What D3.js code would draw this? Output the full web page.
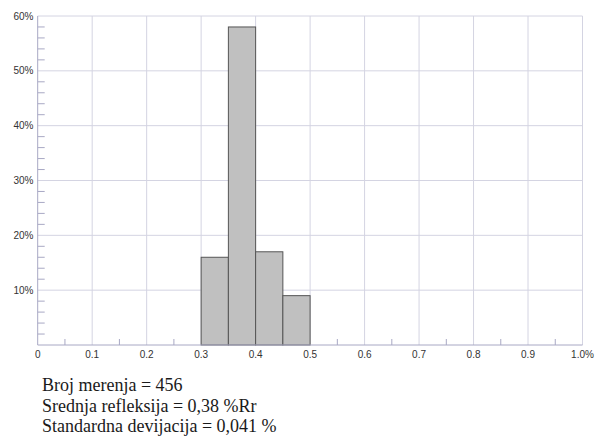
<!DOCTYPE html>
<html><head><meta charset="utf-8">
<script src="https://cdn.jsdelivr.net/npm/d3@7"></script>
<style>body{margin:0;background:#fff}</style>
</head><body><svg id="c" width="598" height="437"></svg>
<script>
const binStarts = [0.30, 0.35, 0.40, 0.45];
const binWidth = 0.05;
const binPercents = [16, 58, 17, 9];
const xTicks = [0,0.1,0.2,0.3,0.4,0.5,0.6,0.7,0.8,0.9,1.0];
const xTickLabels = ["0","0.1","0.2","0.3","0.4","0.5","0.6","0.7","0.8","0.9","1.0%"];
const yTicks = [10,20,30,40,50,60];
const yTickLabels = ["10%","20%","30%","40%","50%","60%"];
const statLines = ["Broj merenja = 456","Srednja refleksija = 0,38 %Rr","Standardna devijacija = 0,041 %"];

const svg = d3.select("#c");
const x = d3.scaleLinear().domain([0,1]).range([37.7,582.5]);
const y = d3.scaleLinear().domain([0,60]).range([345,16]);
const grid = "#d4d4e2", axisC = "#a8a8c4";

// gridlines
svg.append("g").selectAll("line").data(xTicks.slice(1)).join("line")
  .attr("x1",d=>x(d)).attr("x2",d=>x(d)).attr("y1",y(0)).attr("y2",y(60))
  .attr("stroke",grid).attr("stroke-width",1);
svg.append("g").selectAll("line").data(yTicks).join("line")
  .attr("x1",x(0)).attr("x2",x(1)).attr("y1",d=>y(d)).attr("y2",d=>y(d))
  .attr("stroke",grid).attr("stroke-width",1);

// minor ticks
const yMinor = d3.range(2,60,2).filter(v=>v%10!==0);
svg.append("g").selectAll("line").data(yMinor).join("line")
  .attr("x1",x(0)).attr("x2",x(0)+7).attr("y1",d=>y(d)).attr("y2",d=>y(d))
  .attr("stroke",axisC);
const xMinor = d3.range(0.05,1,0.1);
svg.append("g").selectAll("line").data(xMinor).join("line")
  .attr("x1",d=>x(d)).attr("x2",d=>x(d)).attr("y1",y(0)).attr("y2",y(0)-6)
  .attr("stroke",axisC);

// bars
svg.append("g").selectAll("rect").data(binStarts).join("rect")
  .attr("x",d=>x(d)).attr("width",d=>x(d+binWidth)-x(d))
  .attr("y",(d,i)=>y(binPercents[i])).attr("height",(d,i)=>y(0)-y(binPercents[i]))
  .attr("fill","#c0c0c0").attr("stroke","#555").attr("stroke-width",1);

// axes lines
svg.append("line").attr("x1",x(0)).attr("x2",x(0)).attr("y1",y(0)).attr("y2",y(60)).attr("stroke",axisC);
svg.append("line").attr("x1",x(0)).attr("x2",x(1)).attr("y1",y(0)).attr("y2",y(0)).attr("stroke",axisC);

// labels
svg.append("g").selectAll("text").data(xTicks).join("text")
  .attr("x",d=>x(d)).attr("y",357.5).attr("text-anchor","middle")
  .attr("font-family","Liberation Sans, Arial, sans-serif").attr("font-size",10).attr("fill","#333")
  .text((d,i)=>xTickLabels[i]);
svg.append("g").selectAll("text").data(yTicks).join("text")
  .attr("x",33.5).attr("y",d=>y(d)+3.5).attr("text-anchor","end")
  .attr("font-family","Liberation Sans, Arial, sans-serif").attr("font-size",10).attr("fill","#333")
  .text((d,i)=>yTickLabels[i]);

svg.append("g").selectAll("text").data(statLines).join("text")
  .attr("x",42).attr("y",(d,i)=>391+i*20.5)
  .attr("font-family","Liberation Serif, Times New Roman, serif").attr("font-size",18).attr("fill","#1a1a1a")
  .text(d=>d);
</script></body></html>
